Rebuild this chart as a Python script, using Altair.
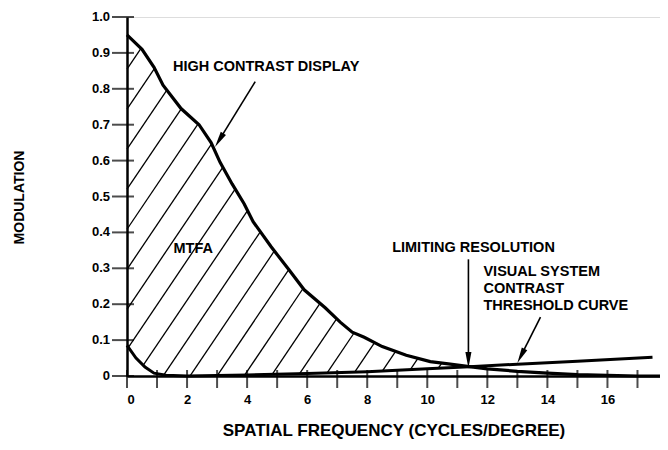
import altair as alt
import numpy as np
import pandas as pd

# ---------------- data ----------------
# High contrast display modulation curve
hcd_x = [0, 0.5, 0.9, 1.2, 1.8, 2.4, 2.8, 3.1, 3.5, 3.9, 4.2, 4.8, 5.4, 5.9,
         6.6, 7.1, 7.5, 7.9, 8.5, 9.3, 10.1, 10.7, 11.4, 12, 13, 14, 15, 16, 17, 17.75]
hcd_y = [0.95, 0.91, 0.86, 0.81, 0.745, 0.70, 0.65, 0.595, 0.535, 0.48, 0.43, 0.36, 0.295, 0.24,
         0.19, 0.15, 0.122, 0.108, 0.082, 0.058, 0.04, 0.034, 0.026, 0.02, 0.013, 0.008, 0.004, 0.002, 0.0, 0.0]

# Visual system contrast threshold curve
th_x = [0, 0.3, 0.6, 0.9, 1.3, 2, 4, 6, 8, 10, 11.4, 13, 15, 17.5]
th_y = [0.085, 0.05, 0.025, 0.008, 0.002, 0.0, 0.003, 0.007, 0.012, 0.02, 0.026, 0.033, 0.041, 0.052]

x_ticks = list(range(0, 18))
x_labels = [0, 2, 4, 6, 8, 10, 12, 14, 16]
y_ticks = [0, 0.1, 0.2, 0.3, 0.4, 0.5, 0.6, 0.7, 0.8, 0.9, 1.0]
y_labels = ["0", "0.1", "0.2", "0.3", "0.4", "0.5", "0.6", "0.7", "0.8", "0.9", "1.0"]

cross_x = 11.4  # limiting resolution

# annotations
label_text = ["HIGH CONTRAST DISPLAY", "MTFA", "LIMITING RESOLUTION",
              "VISUAL SYSTEM", "CONTRAST", "THRESHOLD CURVE"]
label_x = [1.53, 1.55, 8.83, 11.87, 11.87, 11.87]
label_y = [0.86, 0.354, 0.356, 0.29, 0.242, 0.194]

arrow_x1 = [4.27, 11.37, 13.77]
arrow_y1 = [0.82, 0.325, 0.164]
arrow_x2 = [2.93, 11.37, 13.0]
arrow_y2 = [0.638, 0.022, 0.036]

# ---------------- geometry ----------------
W, H = 533, 359
X_MAX = 17.75
px_x = W / X_MAX
px_y = H / 1.0
FONT = "Liberation Sans"

# hatch lines of the MTFA region (between the two curves, left of the crossing)
c = (1.0 / np.tan(np.radians(56))) * px_y / px_x
spacing = 27 / px_x
ys = np.linspace(0, 1, 4001)
segs = []
for x0 in np.arange(1.2 - 11 * spacing, cross_x, spacing):
    xs = x0 + c * ys
    lo = np.interp(xs, th_x, th_y)
    hi = np.interp(xs, hcd_x, hcd_y)
    inside = (xs >= 0) & (xs <= cross_x) & (ys >= lo) & (ys <= hi)
    if inside.any():
        idx = np.where(inside)[0]
        y1, y2 = ys[idx[0]], ys[idx[-1]]
        segs.append(dict(x=x0 + c * y1, y=y1, x2=x0 + c * y2, y2=y2))
hatch_df = pd.DataFrame(segs)

hcd_df = pd.DataFrame({"x": hcd_x, "y": hcd_y})
th_df = pd.DataFrame({"x": th_x, "y": th_y})
lab_df = pd.DataFrame({"x": label_x, "y": label_y, "t": label_text})
ylab_df = pd.DataFrame({"v": y_ticks, "t": y_labels})

arr_df = pd.DataFrame({"x": arrow_x1, "y": arrow_y1, "x2": arrow_x2, "y2": arrow_y2})
dxp = (arr_df["x2"] - arr_df["x"]) * px_x
dyp = -(arr_df["y2"] - arr_df["y"]) * px_y
ang = np.degrees(np.arctan2(dxp, -dyp)) % 360
arr_df["ang"] = ang
L = np.hypot(dxp, dyp)
# shaft stops a bit before the tip
arr_df["sx2"] = arr_df["x"] + (arr_df["x2"] - arr_df["x"]) * (1 - 8 / L)
arr_df["sy2"] = arr_df["y"] + (arr_df["y2"] - arr_df["y"]) * (1 - 8 / L)

xscale = alt.Scale(domain=[0, X_MAX], nice=False, zero=False)
yscale = alt.Scale(domain=[0, 1], nice=False, zero=False)

xaxis = alt.Axis(values=x_labels, ticks=False, tickSize=0, grid=False,
                 domainColor="black", domainWidth=2.5,
                 labelFont=FONT, labelFontWeight="bold", labelFontSize=13,
                 labelColor="black", labelPadding=17, labelOverlap=False,
                 title="SPATIAL FREQUENCY (CYCLES/DEGREE)",
                 titleFont=FONT, titleFontWeight="bold", titleFontSize=17,
                 titleColor="black", titlePadding=16)
yaxis = alt.Axis(values=y_ticks, ticks=False, tickSize=0, grid=False, labels=False,
                 domainColor="black", domainWidth=2.5,
                 title="MODULATION", titleFont=FONT, titleFontWeight="bold",
                 titleFontSize=14, titleColor="black", titleAngle=270,
                 titleX=-108, titleY=180, titleAlign="center", titleBaseline="middle")

hatch = alt.Chart(hatch_df).mark_rule(color="black", strokeWidth=1.3).encode(
    x=alt.X("x:Q", scale=xscale, axis=xaxis),
    y=alt.Y("y:Q", scale=yscale, axis=yaxis),
    x2="x2:Q", y2="y2:Q")

hcd = alt.Chart(hcd_df).mark_line(color="black", strokeWidth=3.2, interpolate="linear").encode(
    x="x:Q", y="y:Q")
th = alt.Chart(th_df).mark_line(color="black", strokeWidth=3, interpolate="linear").encode(
    x="x:Q", y="y:Q")

yt = alt.Chart(ylab_df).mark_tick(
    orient="horizontal", size=22, thickness=2, color="black", xOffset=-4).encode(
    x=alt.datum(0), y=alt.Y("v:Q", axis=yaxis))
ylabels = alt.Chart(ylab_df).mark_text(
    font=FONT, fontWeight="bold", fontSize=13, align="right", baseline="middle",
    color="black", dx=-17).encode(x=alt.datum(0), y=alt.Y("v:Q", axis=yaxis), text="t:N")
xt = alt.Chart(pd.DataFrame({"v": x_ticks})).mark_tick(
    orient="vertical", size=18, thickness=2, color="black", yOffset=3).encode(
    x=alt.X("v:Q", axis=xaxis), y=alt.datum(0))

labels = alt.Chart(lab_df).mark_text(
    font=FONT, fontWeight="bold", fontSize=14.5, align="left", baseline="middle",
    color="black").encode(x="x:Q", y="y:Q", text="t:N")

shaft = alt.Chart(arr_df).mark_rule(color="black", strokeWidth=1.6).encode(
    x="x:Q", y="y:Q", x2="sx2:Q", y2="sy2:Q")
heads = alt.Chart(arr_df).mark_point(
    shape="M0,0L0.38,2L-0.38,2Z", filled=True, color="black", opacity=1, size=256).encode(
    x="x2:Q", y="y2:Q", angle=alt.Angle("ang:Q", scale=None))

chart = alt.layer(hatch, th, hcd, yt, ylabels, xt, shaft, heads, labels).properties(
    width=W, height=H,
    padding={"left": 119, "top": 9, "right": 0, "bottom": 70},
    autosize=alt.AutoSizeParams(type="none"),
).configure_view(stroke="black", strokeWidth=1.5).configure_axis(
    labelOverlap=False).configure(background="white")

chart.save("out.html", embed_options={"renderer": "svg", "actions": False})
